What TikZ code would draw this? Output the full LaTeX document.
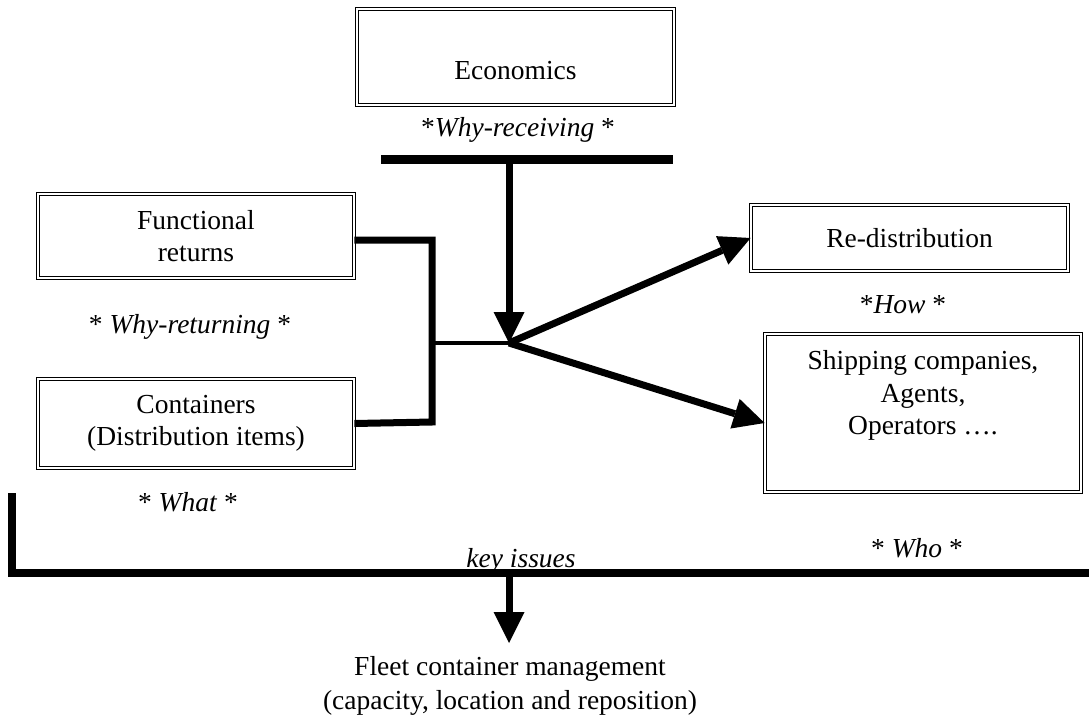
\documentclass[tikz,border=0pt]{standalone}
\usepackage{fontspec}
\setmainfont{Liberation Serif}
\usetikzlibrary{arrows.meta}
\begin{document}
\begin{tikzpicture}[x=1pt,y=-1pt,
  every node/.style={font=\fontsize{27.5}{32.5}\selectfont},
  dbox/.style={draw, line width=1.2pt, double, double distance=2pt, inner sep=0pt, align=center},
  lbl/.style={inner sep=0pt},
  thickline/.style={line width=7pt},
  bigarrow/.style={line width=7pt, -{Triangle[length=31pt,width=31pt,line width=0pt]}}
]
\useasboundingbox (0,0) rectangle (1089,717);
% boxes
\node[dbox, minimum width=316.6pt, minimum height=95.6pt] (eco) at (515.5,57) {\mbox{}\\[12pt]Economics};
\node[dbox, minimum width=315.6pt, minimum height=83.6pt] (fr) at (196,236) {Functional\\returns};
\node[dbox, minimum width=315.6pt, minimum height=88.6pt] (cont) at (196,423.5) {Containers\\(Distribution items)};
\node[dbox, minimum width=316.6pt, minimum height=65.6pt] (rd) at (909.5,238) {Re-distribution};
\node[dbox, minimum width=315.6pt, minimum height=157.6pt] (ship) at (923,413) {Shipping companies,\\Agents,\\Operators ….\\[8pt]\mbox{}};
% labels
\node[lbl] (whyrec) at (518,130) {*\textit{Why-receiving} *};
\node[lbl] (whyret) at (190,327) {* \textit{Why-returning} *};
\node[lbl] (how) at (903,305) {*\textit{How} *};
\node[lbl] (what) at (188,502) {* \textit{What} *};
\node[lbl] (who) at (917,548) {* \textit{Who} *};
\node[lbl, anchor=base] (key) at (521,567) {\textit{key issues}};
\node[lbl, align=center, font=\fontsize{27.5}{34}\selectfont] (fleet) at (510,686) {Fleet container management\\(capacity, location and reposition)};
% coordinates
\coordinate (barL) at (381,159);
\coordinate (barR) at (673,159);
\coordinate (barM) at (509,159);
\coordinate (J) at (509,343);
\coordinate (vT) at (432,240);
\coordinate (vB) at (432,422);
\coordinate (vM) at (432,343);
\coordinate (bl) at (12,493);
\coordinate (bc) at (12,573);
\coordinate (br) at (1089,573);
\coordinate (kb) at (509,573);
\coordinate (kt) at (509,643);
% connectors
\draw[line width=9pt] (barL) -- (barR);
\draw[bigarrow] (barM) -- (J);
\draw[thickline, line join=miter] ([yshift=-4pt]fr.east) -- (vT) -- (vB) -- (cont.east);
\draw[line width=4pt] (vM) -- (J);
\draw[bigarrow] (J) -- (rd.west);
\draw[bigarrow] (J) -- ([yshift=-10pt]ship.west);
\draw[line width=8pt, line join=miter] (bl) -- (bc) -- (br);
\draw[bigarrow] (kb) -- (kt);
\end{tikzpicture}
\end{document}
